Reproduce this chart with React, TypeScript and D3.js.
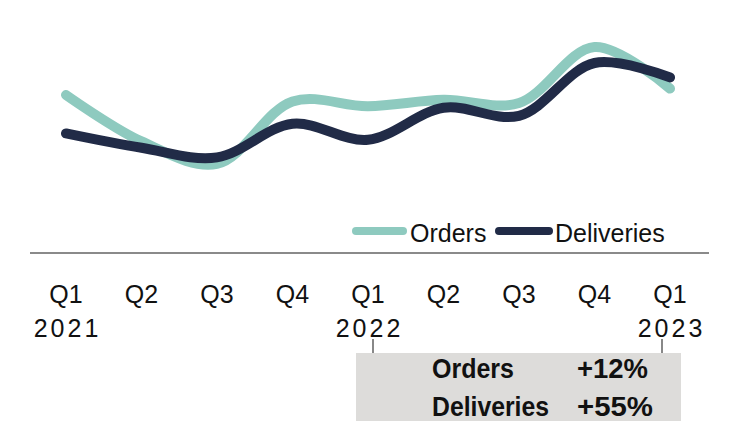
import React from "react";
import * as d3 from "d3";

const quarters = ["Q1", "Q2", "Q3", "Q4", "Q1", "Q2", "Q3", "Q4", "Q1"];
const years = ["2021", "", "", "", "2022", "", "", "", "2023"];
const orders = [100, 71, 57, 96, 93, 97, 95, 130, 104];
const deliveries = [76, 67, 61, 82, 72, 92, 87, 120, 111];
const seriesNames = ["Orders", "Deliveries"];
const seriesColors = ["#8ecabf", "#212b47"];
const changeLabels = ["+12%", "+55%"];

const W = 736;
const H = 424;

export default function App() {
  const x = d3.scaleLinear().domain([0, quarters.length - 1]).range([66, 670]);
  const y = d3.scaleLinear().domain([0, 100]).range([255, 95]);
  const line = d3
    .line<number>()
    .x((_, i) => x(i))
    .y((d) => y(d))
    .curve(d3.curveCatmullRom.alpha(0.5));
  const series = [orders, deliveries];
  const font = "'Liberation Sans', Arial, sans-serif";

  return (
    <svg
      width={W}
      height={H}
      style={{ position: "absolute", left: 0, top: 0, background: "#fff" }}
      fontFamily={font}
    >
      {series.map((s, k) => (
        <path
          key={k}
          d={line(s) || ""}
          fill="none"
          stroke={seriesColors[k]}
          strokeWidth={10}
          strokeLinecap="round"
          strokeLinejoin="round"
        />
      ))}

      {/* legend */}
      <g>
        <line x1={356} x2={403} y1={231} y2={231} stroke={seriesColors[0]} strokeWidth={8} strokeLinecap="round" />
        <text x={410} y={242} fontSize={25} fill="#111">{seriesNames[0]}</text>
        <line x1={499} x2={549} y1={231} y2={231} stroke={seriesColors[1]} strokeWidth={8} strokeLinecap="round" />
        <text x={555} y={242} fontSize={25} fill="#111">{seriesNames[1]}</text>
      </g>

      {/* axis line */}
      <line x1={30} x2={709} y1={253} y2={253} stroke="#8a8a8a" strokeWidth={2} />

      {quarters.map((q, i) => (
        <g key={i}>
          <text x={x(i)} y={303} fontSize={25} textAnchor="middle" fill="#111">{q}</text>
          {years[i] && (
            <text x={x(i) + 1.5} y={337} fontSize={25} textAnchor="middle" letterSpacing={3} fill="#111">
              {years[i]}
            </text>
          )}
        </g>
      ))}

      {/* comparison box */}
      <rect x={356} y={353} width={325} height={68} fill="#dddcda" />
      <line x1={x(4) + 5} x2={x(4) + 5} y1={339} y2={353} stroke="#888" strokeWidth={2} />
      <line x1={x(8) - 8} x2={x(8) - 8} y1={339} y2={353} stroke="#888" strokeWidth={2} />
      {seriesNames.map((n, k) => (
        <g key={n}>
          <text x={432} y={378 + k * 38} fontSize={27} fontWeight="bold" fill="#111"
            textLength={k === 0 ? 82 : 117} lengthAdjust="spacingAndGlyphs">{n}</text>
          <text x={577} y={378 + k * 38} fontSize={27} fontWeight="bold" fill="#111"
            textLength={k === 0 ? 71 : 76} lengthAdjust="spacingAndGlyphs">{changeLabels[k]}</text>
        </g>
      ))}
    </svg>
  );
}
